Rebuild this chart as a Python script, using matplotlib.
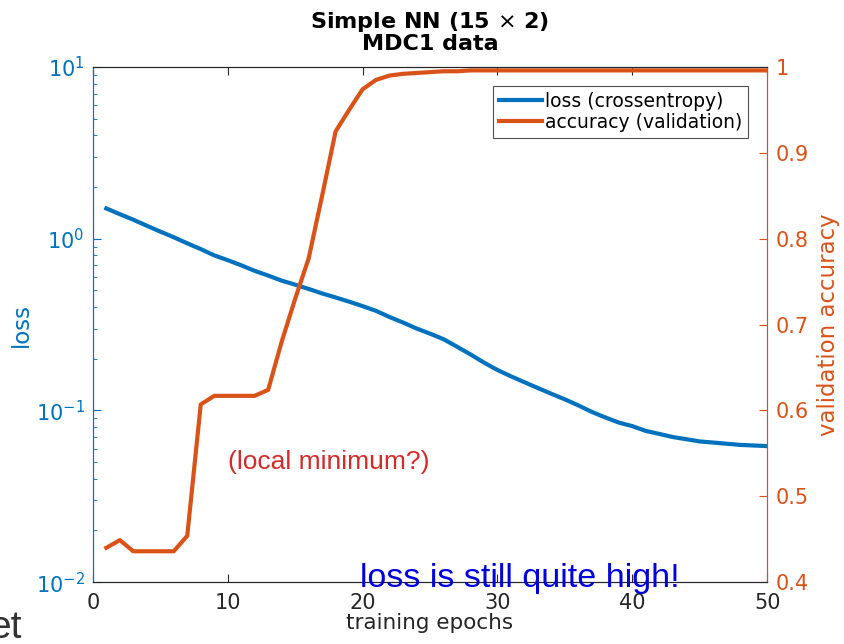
import matplotlib
matplotlib.use("Agg")
import matplotlib.pyplot as plt
from matplotlib.ticker import LogLocator, NullFormatter, FixedLocator

# Data
epochs = list(range(1, 51))
loss = [1.50, 1.39, 1.29, 1.19, 1.10, 1.02, 0.94, 0.87, 0.80, 0.75,
        0.70, 0.65, 0.61, 0.57, 0.54, 0.51, 0.48, 0.455, 0.43, 0.405,
        0.38, 0.35, 0.325, 0.30, 0.28, 0.26, 0.235, 0.212, 0.19, 0.172,
        0.158, 0.146, 0.135, 0.125, 0.116, 0.107, 0.098, 0.091, 0.085, 0.081,
        0.076, 0.073, 0.070, 0.068, 0.066, 0.065, 0.064, 0.063, 0.0625, 0.062]
accuracy = [0.440, 0.449, 0.436, 0.436, 0.436, 0.436, 0.454, 0.607, 0.617, 0.617,
            0.617, 0.617, 0.624, 0.680, 0.730, 0.777, 0.850, 0.925, 0.950, 0.974,
            0.985, 0.990, 0.992, 0.993, 0.994, 0.995, 0.995, 0.996, 0.996, 0.996,
            0.996, 0.996, 0.996, 0.996, 0.996, 0.996, 0.996, 0.996, 0.996, 0.996,
            0.996, 0.996, 0.996, 0.996, 0.996, 0.996, 0.996, 0.996, 0.996, 0.996]
x_ticks = [0, 10, 20, 30, 40, 50]
acc_ticks = [0.4, 0.5, 0.6, 0.7, 0.8, 0.9, 1.0]
acc_labels = ["0.4", "0.5", "0.6", "0.7", "0.8", "0.9", "1"]

blue = "#0072BD"
orange = "#D95319"
dark = "#262626"

fig = plt.figure(figsize=(8.44, 6.44), dpi=100)
ax = fig.add_axes([0.110, 0.096, 0.799, 0.800])
ax2 = ax.twinx()

# loss on log axis
l1, = ax.plot(epochs, loss, color=blue, linewidth=3, label="loss (crossentropy)")
ax.set_yscale("log")
ax.set_ylim(1e-2, 1e1)
ax.set_xlim(0, 50)
ax.set_xticks(x_ticks)
ax.yaxis.set_major_locator(LogLocator(base=10, numticks=10))
ax.yaxis.set_minor_locator(LogLocator(base=10, subs=range(2, 10), numticks=20))
ax.yaxis.set_minor_formatter(NullFormatter())
ax.tick_params(axis="x", direction="in", length=6, labelsize=15, colors=dark,
               top=True, pad=8)
ax.tick_params(axis="y", which="both", direction="in", colors=blue, labelsize=15)
ax.tick_params(axis="y", which="major", length=6, pad=6)
ax.tick_params(axis="y", which="minor", length=3)
ax.set_xlabel("training epochs", fontsize=15.5, color=dark, labelpad=0)
ax.set_ylabel("loss", fontsize=16.5, color=blue, labelpad=2)

# accuracy on linear axis
l2, = ax2.plot(epochs, accuracy, color=orange, linewidth=3, label="accuracy (validation)")
ax2.set_ylim(0.4, 1.0)
ax2.yaxis.set_major_locator(FixedLocator(acc_ticks))
ax2.set_yticklabels(acc_labels)
ax2.tick_params(axis="y", direction="in", length=6, colors=orange, labelsize=15, pad=6)
ax2.set_ylabel("validation accuracy", fontsize=16.5, color=orange, labelpad=6)

for a in (ax, ax2):
    a.spines["top"].set_color(dark)
    a.spines["bottom"].set_color(dark)
    a.spines["left"].set_color(blue)
    a.spines["right"].set_color(orange)
    for s in a.spines.values():
        s.set_linewidth(0.8)

ax.set_title("Simple NN (15 $\\times$ 2)\nMDC1 data", fontsize=16,
             fontweight="bold", pad=12, linespacing=1.05)

leg = ax2.legend([l1, l2], ["loss (crossentropy)", "accuracy (validation)"],
                 loc="upper right", bbox_to_anchor=(0.972, 0.963), fontsize=13.5,
                 frameon=True, fancybox=False, edgecolor=dark, handlelength=2.3,
                 handletextpad=0.2, borderpad=0.3, labelspacing=0.12,
                 borderaxespad=0)
leg.get_frame().set_linewidth(0.8)

# slide annotations
fig.text(0.270, 0.272, "(local minimum?)", fontsize=19, color="#d42a2a",
         family="Liberation Sans")
fig.text(0.426, 0.088, "loss is still quite high!", fontsize=24.5, color="#0000dd",
         family="Liberation Sans")
fig.text(-0.012, 0.010, "et", fontsize=28, color="#333333",
         family="Liberation Sans")

plt.savefig("out.png", dpi=100)
